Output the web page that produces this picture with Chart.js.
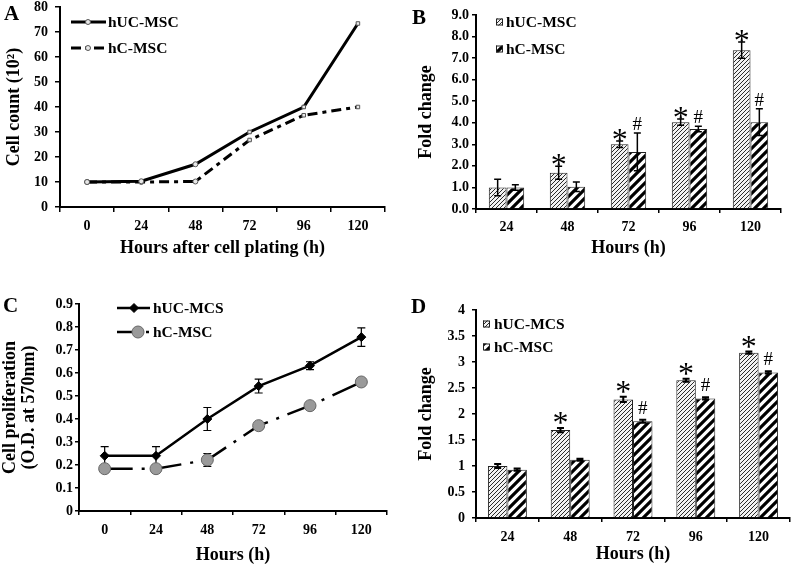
<!DOCTYPE html>
<html><head><meta charset="utf-8">
<script src="https://cdn.jsdelivr.net/npm/chart.js@4.4.1/dist/chart.umd.min.js"></script>
<style>
html,body{margin:0;padding:0;background:#fff;}
#wrap{position:relative;width:796px;height:569px;overflow:hidden;background:#fff;}
canvas{position:absolute;left:0;top:0;}
.lbl{position:absolute;font:bold 21px "Liberation Serif","Times New Roman",serif;line-height:21px;color:#000;}
</style></head><body>
<div id="wrap">
<canvas id="cA" width="796" height="569"></canvas>
<canvas id="cB" width="796" height="569"></canvas>
<canvas id="cC" width="796" height="569"></canvas>
<canvas id="cD" width="796" height="569"></canvas>
<div class="lbl" style="left:4px;top:3px">A</div>
<div class="lbl" style="left:412px;top:7px">B</div>
<div class="lbl" style="left:3px;top:295px">C</div>
<div class="lbl" style="left:411px;top:296px">D</div>
</div>
<script>
// ---------- data ----------
const hoursLine = ['0', '24', '48', '72', '96', '120'];
const hoursBar = ['24', '48', '72', '96', '120'];

// Panel A: cell count (10^2)
const countUC = [10, 10.3, 17.1, 30, 40, 73.4];
const countC = [10, 10, 10.2, 26.8, 36.7, 40];

// Panel B: fold change
const foldUC_B = [1.0, 1.68, 3.0, 4.03, 7.37];
const foldUC_B_err = [0.38, 0.3, 0.15, 0.15, 0.38];
const foldC_B = [1.0, 1.03, 2.65, 3.71, 4.03];
const foldC_B_err = [0.13, 0.22, 0.88, 0.13, 0.62];
const marksUC_B = ['', '*', '*', '*', '*'];
const marksC_B = ['', '', '#', '#', '#'];

// Panel C: O.D. at 570nm
const odUC = [0.24, 0.24, 0.40, 0.543, 0.632, 0.756];
const odUC_err = [0.04, 0.04, 0.05, 0.03, 0.017, 0.04];
const odC = [0.184, 0.184, 0.222, 0.371, 0.458, 0.561];
const odC_err = [0, 0, 0.028, 0, 0, 0];

// Panel D: fold change
const foldUC_D = [1.0, 1.69, 2.28, 2.65, 3.18];
const foldUC_D_err = [0.04, 0.04, 0.05, 0.03, 0.02];
const foldC_D = [0.93, 1.12, 1.86, 2.30, 2.80];
const foldC_D_err = [0.02, 0.02, 0.03, 0.02, 0.02];
const marksUC_D = ['', '*', '*', '*', '*'];
const marksC_D = ['', '', '#', '#', '#'];

// ---------- defaults ----------
const FF = '"Liberation Serif","Times New Roman",serif';
Chart.defaults.font.family = FF;
Chart.defaults.font.weight = 'bold';
Chart.defaults.font.size = 14;
Chart.defaults.color = '#000';
Chart.defaults.animation = false;
Chart.defaults.responsive = false;
Chart.defaults.devicePixelRatio = 1;
Chart.defaults.plugins.legend.display = false;
Chart.defaults.plugins.tooltip.enabled = false;

function hatch(size, lw, fg, bg) {
  const c = document.createElement('canvas');
  c.width = c.height = size;
  const g = c.getContext('2d');
  g.fillStyle = bg; g.fillRect(0, 0, size, size);
  g.strokeStyle = fg; g.lineWidth = lw;
  g.beginPath();
  g.moveTo(-1, size + 1); g.lineTo(size + 1, -1);
  g.moveTo(-size / 2 - 1, size / 2 + 1); g.lineTo(size / 2 + 1, -size / 2 - 1);
  g.moveTo(size / 2 - 1, size * 1.5 + 1); g.lineTo(size * 1.5 + 1, size / 2 - 1);
  g.stroke();
  return g.createPattern(c, 'repeat');
}
const patUC = hatch(4, 1, '#2a2a2a', '#f2f2f2');
const patC = hatch(9, 3.2, '#000', '#fff');

function yScale(o) {
  const s = {
    min: 0, max: o.max,
    ticks: { stepSize: o.step, padding: o.pad, font: { size: 14, weight: 'bold' }, color: '#000' },
    grid: { drawOnChartArea: false, drawTicks: true, tickLength: o.tl, color: '#000', lineWidth: 1.5 },
    border: { display: true, color: '#000', width: 2 },
    title: { display: true, text: o.title, color: '#000',
      font: { size: 18, weight: 'bold', lineHeight: o.lh || 1.2 },
      padding: { top: o.tpad || 0, bottom: 0 } },
    afterFit(sc) { sc.width = o.w; sc.paddingTop = 0; sc.paddingBottom = 0; sc.paddingLeft = 0; sc.paddingRight = 0; }
  };
  if (o.fmt) s.ticks.callback = o.fmt;
  return s;
}
function xScale(o) {
  return {
    type: 'category', offset: true,
    ticks: { padding: o.pad, font: { size: 14, weight: 'bold' }, color: '#000', maxRotation: 0, autoSkip: false },
    grid: { offset: true, drawOnChartArea: false, drawTicks: true, tickLength: o.tl, color: '#000', lineWidth: 1.5 },
    border: { display: true, color: '#000', width: 2 },
    title: { display: true, text: o.title, color: '#000', font: { size: 18, weight: 'bold' }, padding: { top: 0, bottom: 0 } },
    afterFit(sc) { sc.height = o.h; sc.paddingLeft = 0; sc.paddingRight = 0; sc.paddingTop = 0; sc.paddingBottom = 0; }
  };
}
function frame(a, yW, xH) {
  return { padding: { left: a.l - yW, top: a.t, right: 796 - a.r, bottom: 569 - a.b - xH } };
}

function drawMarker(ctx, style, x, y, r) {
  ctx.beginPath();
  if (style === 'rect') { ctx.rect(x - r, y - r, 2 * r, 2 * r); }
  else if (style === 'rectRot') { ctx.moveTo(x, y - r); ctx.lineTo(x + r, y); ctx.lineTo(x, y + r); ctx.lineTo(x - r, y); ctx.closePath(); }
  else { ctx.arc(x, y, r, 0, Math.PI * 2); }
  ctx.fill(); ctx.stroke();
}

function drawErr(chart, o) {
  const ctx = chart.ctx, ys = chart.scales.y;
  chart.data.datasets.forEach((ds, i) => {
    if (!ds.errors) return;
    chart.getDatasetMeta(i).data.forEach((el, j) => {
      const e = ds.errors[j]; if (!e) return;
      const v = ds.data[j];
      const yt = ys.getPixelForValue(v + e), yb = ys.getPixelForValue(v - e);
      ctx.save();
      ctx.strokeStyle = '#000'; ctx.lineWidth = o.width;
      ctx.beginPath();
      ctx.moveTo(el.x, yt); ctx.lineTo(el.x, yb);
      ctx.moveTo(el.x - o.cap, yt); ctx.lineTo(el.x + o.cap, yt);
      ctx.moveTo(el.x - o.cap, yb); ctx.lineTo(el.x + o.cap, yb);
      ctx.stroke();
      ctx.restore();
    });
  });
}
const errPlugin = {
  id: 'errbars',
  beforeDatasetsDraw(chart, args, o) { if (o.before) drawErr(chart, o); },
  afterDatasetsDraw(chart, args, o) { if (!o.before) drawErr(chart, o); }
};

const marksPlugin = {
  id: 'marks',
  afterDatasetsDraw(chart, args, o) {
    const ctx = chart.ctx, ys = chart.scales.y;
    chart.data.datasets.forEach((ds, i) => {
      if (!ds.marks) return;
      chart.getDatasetMeta(i).data.forEach((el, j) => {
        const m = ds.marks[j]; if (!m) return;
        const st = m === '*' ? o.star : o.hash;
        const top = ys.getPixelForValue(ds.data[j] + (ds.errors ? ds.errors[j] : 0));
        ctx.save();
        ctx.font = `${st.weight} ${st.size}px ${FF}`;
        ctx.fillStyle = '#000'; ctx.textAlign = 'center'; ctx.textBaseline = 'alphabetic';
        const mt = ctx.measureText(m);
        ctx.fillText(m, el.x, top - st.gap - mt.actualBoundingBoxDescent);
        ctx.restore();
      });
    });
  }
};

const lineLegend = {
  id: 'lineLegend',
  afterDraw(chart, args, o) {
    const ctx = chart.ctx, a = chart.chartArea;
    chart.data.datasets.forEach((ds, i) => {
      const it = o.items[i];
      const y = a.top + o.dy + i * o.gap;
      const x0 = a.left + o.dx, x1 = x0 + o.len;
      ctx.save();
      ctx.strokeStyle = ds.borderColor; ctx.lineWidth = ds.borderWidth;
      ctx.setLineDash(it.dash || []);
      ctx.beginPath(); ctx.moveTo(x0, y); ctx.lineTo(x1, y); ctx.stroke();
      ctx.setLineDash([]);
      ctx.fillStyle = ds.pointBackgroundColor; ctx.strokeStyle = ds.pointBorderColor; ctx.lineWidth = ds.pointBorderWidth;
      drawMarker(ctx, it.marker, x0 + it.mx, y, ds.pointRadius);
      ctx.fillStyle = '#000';
      ctx.font = `bold ${o.font}px ${FF}`;
      ctx.textBaseline = 'middle'; ctx.textAlign = 'left';
      ctx.fillText(ds.label, x1 + o.tx, y + 1);
      ctx.restore();
    });
  }
};

const boxLegend = {
  id: 'boxLegend',
  afterDraw(chart, args, o) {
    const ctx = chart.ctx, a = chart.chartArea;
    chart.data.datasets.forEach((ds, i) => {
      const y = a.top + o.dy + i * o.gap;
      const x = a.left + o.dx;
      ctx.save();
      ctx.fillStyle = ds.backgroundColor;
      ctx.fillRect(x, y - o.box / 2, o.box, o.box);
      ctx.strokeStyle = '#222'; ctx.lineWidth = 1;
      ctx.strokeRect(x + 0.5, y - o.box / 2 + 0.5, o.box - 1, o.box - 1);
      ctx.fillStyle = '#000';
      ctx.font = `bold ${o.font}px ${FF}`;
      ctx.textBaseline = 'middle'; ctx.textAlign = 'left';
      ctx.fillText(ds.label, x + o.box + o.tx, y + 1);
      ctx.restore();
    });
  }
};

// ---------- Panel A ----------
const areaA = { l: 60, t: 7, r: 385, b: 207 };
new Chart(document.getElementById('cA'), {
  type: 'line',
  data: {
    labels: hoursLine,
    datasets: [
      { label: 'hUC-MSC', data: countUC, borderColor: '#000', borderWidth: 3, tension: 0,
        pointStyle: ['circle', 'circle', 'circle', 'rect', 'rect', 'rect'], pointRadius: 2.5,
        pointBackgroundColor: '#e8e8e8', pointBorderColor: '#555', pointBorderWidth: 1 },
      { label: 'hC-MSC', data: countC, borderColor: '#000', borderWidth: 3, tension: 0, borderDash: [10, 5, 4, 5],
        pointStyle: ['circle', 'circle', 'circle', 'rect', 'rect', 'rect'], pointRadius: 2.5,
        pointBackgroundColor: '#e8e8e8', pointBorderColor: '#555', pointBorderWidth: 1 }
    ]
  },
  options: {
    layout: frame(areaA, 56, 52),
    scales: {
      x: xScale({ pad: 6, tl: 5, h: 52, title: 'Hours after cell plating (h)' }),
      y: yScale({ max: 80, step: 10, pad: 7, tl: 5, w: 56, title: 'Cell count (10²)' })
    },
    plugins: {
      lineLegend: { dx: 11, dy: 15, gap: 26, len: 35, tx: 2, font: 15.5,
        items: [{ marker: 'circle', mx: 17 }, { marker: 'circle', mx: 17, dash: [10, 4, 5, 4] }] }
    }
  },
  plugins: [lineLegend]
});

// ---------- Panel B ----------
const areaB = { l: 476, t: 15, r: 781, b: 209 };
new Chart(document.getElementById('cB'), {
  type: 'bar',
  data: {
    labels: hoursBar,
    datasets: [
      { label: 'hUC-MSC', data: foldUC_B, errors: foldUC_B_err, marks: marksUC_B,
        backgroundColor: patUC, borderColor: '#222', borderWidth: 1,
        categoryPercentage: 0.58, barPercentage: 1.0 },
      { label: 'hC-MSC', data: foldC_B, errors: foldC_B_err, marks: marksC_B,
        backgroundColor: patC, borderColor: '#222', borderWidth: 1,
        categoryPercentage: 0.58, barPercentage: 1.0 }
    ]
  },
  options: {
    layout: frame(areaB, 60, 50),
    scales: {
      x: xScale({ pad: 6, tl: 4, h: 50, title: 'Hours (h)' }),
      y: yScale({ max: 9, step: 1, pad: 3, tl: 4, w: 60, title: 'Fold change', fmt: v => v.toFixed(1) })
    },
    plugins: {
      errbars: { cap: 3.5, width: 1.5, before: false },
      marks: { star: { size: 32, weight: 'normal', gap: 0 }, hash: { size: 19, weight: 'normal', gap: 3 } },
      boxLegend: { dx: 20, dy: 7, gap: 27, box: 7, tx: 3, font: 15.5 }
    }
  },
  plugins: [errPlugin, marksPlugin, boxLegend]
});

// ---------- Panel C ----------
const areaC = { l: 79, t: 304, r: 387, b: 511 };
new Chart(document.getElementById('cC'), {
  type: 'line',
  data: {
    labels: hoursLine,
    datasets: [
      { label: 'hUC-MCS', data: odUC, errors: odUC_err, borderColor: '#000', borderWidth: 2.5, tension: 0,
        pointStyle: 'rectRot', pointRadius: 4.5, pointBackgroundColor: '#000', pointBorderColor: '#000', pointBorderWidth: 1 },
      { label: 'hC-MSC', data: odC, errors: odC_err, borderColor: '#000', borderWidth: 2.5, tension: 0, borderDash: [28, 9, 3, 9],
        pointStyle: 'circle', pointRadius: 6, pointBackgroundColor: '#9a9a9a', pointBorderColor: '#666', pointBorderWidth: 1 }
    ]
  },
  options: {
    layout: frame(areaC, 79, 55),
    scales: {
      x: xScale({ pad: 7, tl: 4, h: 55, title: 'Hours (h)' }),
      y: yScale({ max: 0.9, step: 0.1, pad: 2, tl: 4, w: 79, lh: 1.05, tpad: 0.5,
        title: ['Cell proliferation', '(O.D. at 570nm)'] })
    },
    plugins: {
      errbars: { cap: 4, width: 1.2, before: true },
      lineLegend: { dx: 38, dy: 4, gap: 24, len: 33, tx: 3, font: 15.5,
        items: [{ marker: 'rectRot', mx: 17 }, { marker: 'circle', mx: 21, dash: [15, 14, 3, 20] }] }
    }
  },
  plugins: [errPlugin, lineLegend]
});

// ---------- Panel D ----------
const areaD = { l: 476, t: 310, r: 790, b: 518 };
new Chart(document.getElementById('cD'), {
  type: 'bar',
  data: {
    labels: hoursBar,
    datasets: [
      { label: 'hUC-MCS', data: foldUC_D, errors: foldUC_D_err, marks: marksUC_D,
        backgroundColor: patUC, borderColor: '#222', borderWidth: 1,
        categoryPercentage: 0.62, barPercentage: 1.0 },
      { label: 'hC-MSC', data: foldC_D, errors: foldC_D_err, marks: marksC_D,
        backgroundColor: patC, borderColor: '#222', borderWidth: 1,
        categoryPercentage: 0.62, barPercentage: 1.0 }
    ]
  },
  options: {
    layout: frame(areaD, 60, 47),
    scales: {
      x: xScale({ pad: 7, tl: 4, h: 47, title: 'Hours (h)' }),
      y: yScale({ max: 4, step: 0.5, pad: 7, tl: 4, w: 60, title: 'Fold change',
        fmt: v => String(Number(Number(v).toFixed(1))) })
    },
    plugins: {
      errbars: { cap: 3.5, width: 2, before: false },
      marks: { star: { size: 32, weight: 'normal', gap: 4 }, hash: { size: 19, weight: 'normal', gap: 6 } },
      boxLegend: { dx: 7, dy: 14, gap: 23, box: 7, tx: 4, font: 15.5 }
    }
  },
  plugins: [errPlugin, marksPlugin, boxLegend]
});
</script>
</body></html>
